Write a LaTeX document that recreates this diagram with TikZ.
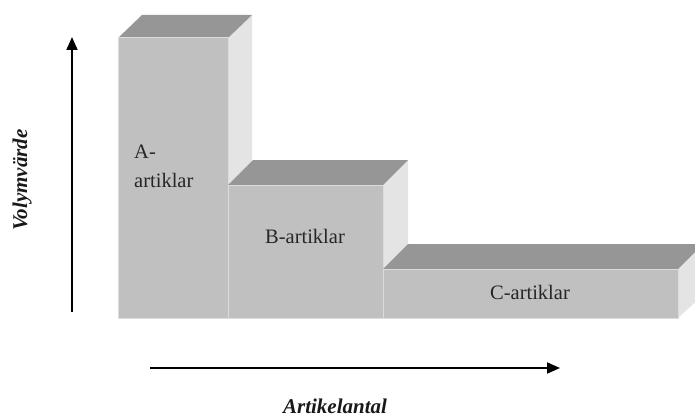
\documentclass[tikz,border=0pt]{standalone}
\usepackage{fontspec}
\setmainfont{Liberation Serif}
\usetikzlibrary{arrows.meta}
\definecolor{frontgray}{RGB}{192,192,192}
\definecolor{topgray}{RGB}{150,150,150}
\definecolor{sidegray}{RGB}{228,228,228}
\definecolor{edgegray}{RGB}{220,220,220}
\begin{document}
\begin{tikzpicture}[x=1pt,y=-1pt,
  front/.style={fill=frontgray, draw=edgegray, line width=1pt},
  topface/.style={fill=topgray},
  sideface/.style={fill=sidegray},
  axis/.style={line width=1.8pt, -{Triangle[length=13pt,width=11pt]}},
  blocklabel/.style={font=\fontsize{20.5}{29}\selectfont, text=black!85, inner sep=0pt},
  axislabel/.style={font=\fontsize{21}{24}\selectfont\bfseries\itshape, text=black!90, inner sep=0pt}]
\useasboundingbox (0,0) rectangle (695,417);
\clip (0,0) rectangle (695,417);

% A block (tallest)
\fill[sideface] (228,38) -- (252,15) -- (252,295) -- (228,318) -- cycle;
\fill[topface] (118,38) -- (142,15) -- (252,15) -- (228,38) -- cycle;
\draw[front] (118,38) rectangle (228,318);

% B block
\fill[sideface] (383,185) -- (408,160) -- (408,295) -- (383,318) -- cycle;
\fill[topface] (228,185) -- (253,160) -- (408,160) -- (383,185) -- cycle;
\draw[front] (228,185) rectangle (383,318);

% C block
\fill[sideface] (678,269) -- (703,244) -- (703,295) -- (678,318) -- cycle;
\fill[topface] (383,269) -- (408,244) -- (703,244) -- (678,269) -- cycle;
\draw[front] (383,269) rectangle (678,318);

% block labels
\node[blocklabel, align=left, anchor=north west] (labA) at (134,145) {A-\\artiklar};
\node[blocklabel] (labB) at (305,236) {B-artiklar};
\node[blocklabel] (labC) at (530,292) {C-artiklar};

% axes
\coordinate (ybot) at (72,312);
\coordinate (ytop) at (72,37);
\coordinate (xleft) at (150,368);
\coordinate (xright) at (560,368);
\draw[axis] (ybot) -- (ytop);
\draw[axis] (xleft) -- (xright);

\node[axislabel, rotate=90] (ylab) at (22,180) {Volymvärde};
\node[axislabel] (xlab) at (335,406) {Artikelantal};
\end{tikzpicture}
\end{document}
